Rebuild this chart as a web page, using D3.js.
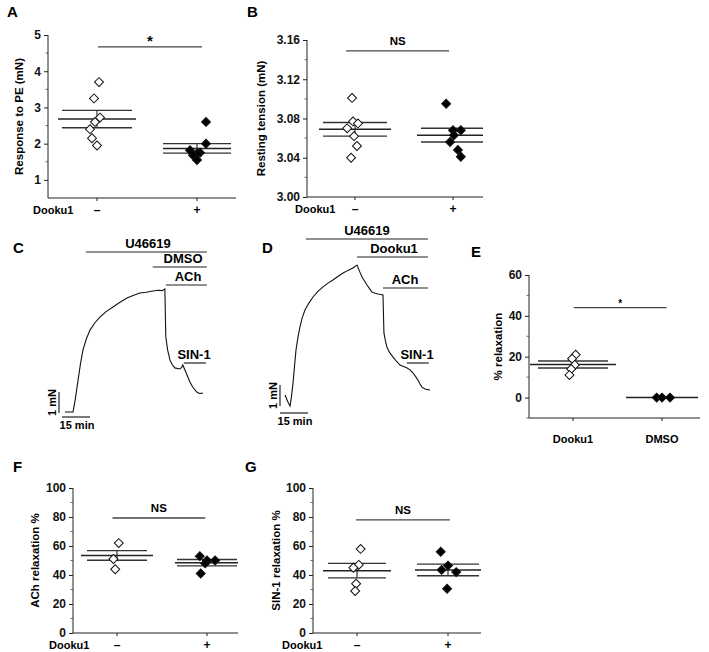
<!DOCTYPE html>
<html><head><meta charset="utf-8">
<script src="https://cdn.jsdelivr.net/npm/d3@7"></script>
<style>
body{margin:0;background:#fff;}
svg{font-family:"Liberation Sans",Arial,sans-serif;font-weight:bold;}
</style></head><body>
<svg id="fig" width="709" height="652"></svg>
<script>
// ---------- DATA ----------
// Panel A: response to PE (mN); jitter in category units
const aCats = ["–", "+"];
const aOpen = [3.70, 3.25, 2.72, 2.60, 2.40, 2.15, 1.95];
const aOpenJit = [0.02, -0.03, 0.03, -0.02, -0.07, -0.05, 0.0];
const aFilled = [2.60, 2.00, 1.82, 1.75, 1.72, 1.68, 1.55];
const aFilledJit = [0.09, 0.09, -0.07, 0.03, 0.0, -0.04, 0.0];
const aMean = [2.68, 1.87];
const aSem = [0.24, 0.13];
const aTicks = [1, 2, 3, 4, 5];

// Panel B: resting tension (mN)
const bCats = ["–", "+"];
const bOpen = [3.101, 3.077, 3.075, 3.070, 3.062, 3.052, 3.040];
const bOpenJit = [-0.03, -0.02, 0.03, -0.08, -0.01, 0.02, -0.04];
const bFilled = [3.095, 3.068, 3.068, 3.063, 3.056, 3.048, 3.041];
const bFilledJit = [-0.07, 0.0, 0.08, 0.01, -0.03, 0.05, 0.08];
const bMean = [3.069, 3.063];
const bSem = [0.007, 0.007];
const bTicks = [3.00, 3.04, 3.08, 3.12, 3.16];

// Panel E: % relaxation
const eCats = ["Dooku1", "DMSO"];
const eOpen = [21, 19, 16, 14, 11];
const eOpenJit = [0.03, -0.01, 0.02, -0.02, -0.04];
const eFilled = [0, 0, 0];
const eFilledJit = [-0.06, 0.0, 0.09];
const eMean = [16.2, 0];
const eSem = [1.7, 0];
const eTicks = [0, 20, 40, 60];

// Panel F: ACh relaxation %
const fCats = ["–", "+"];
const fOpen = [62, 51, 44];
const fOpenJit = [0.02, -0.04, -0.02];
const fFilled = [53, 50, 50, 48, 41];
const fFilledJit = [-0.08, 0.0, 0.09, -0.02, -0.07];
const fMean = [53.5, 48.5];
const fSem = [3.3, 2.2];
const fTicks = [0, 20, 40, 60, 80, 100];

// Panel G: SIN-1 relaxation %
const gCats = ["–", "+"];
const gOpen = [58, 47, 45, 34, 29];
const gOpenJit = [0.04, 0.02, -0.04, -0.01, -0.02];
const gFilled = [56, 46.5, 43.5, 42, 30.5];
const gFilledJit = [-0.08, 0.0, -0.07, 0.09, -0.01];
const gMean = [43, 43.5];
const gSem = [5, 4];
const gTicks = [0, 20, 40, 60, 80, 100];

// Panel C trace: [minutes, mN]
const cTrace = [[0,0],[4.3,0],[5.5,0.6],[7,1.52],[8.3,2.3],[9.6,2.95],[11.5,3.5],[13.4,3.9],[16,4.25],[18.7,4.52],[22,4.78],[25.7,5.0],[29,5.2],[33.2,5.43],[36.5,5.55],[40.1,5.67],[43.5,5.7],[47.1,5.76],[50,5.8],[52,5.78],[53.5,5.86],[54,3.57],[55,2.95],[56.2,2.48],[57.5,2.25],[58.8,2.1],[61.5,2.05],[62.5,2.12],[63.1,2.24],[64.5,1.95],[65.8,1.67],[67,1.42],[68.4,1.19],[70.6,0.95],[72,0.88],[73.8,0.9]];
const cBars = [["U46619", 11.2, 76], ["DMSO", 47, 76], ["ACh", 54, 76], ["SIN-1", 63.7, 75.5]];

// Panel D trace: [minutes, mN]
const dTrace = [[0,0.52],[1.5,0.2],[2.7,0],[3.4,0.4],[4.3,1.1],[5.1,1.9],[5.9,2.67],[7,3.3],[8,3.76],[9.2,4.2],[10.7,4.57],[12.8,4.9],[15,5.19],[17.5,5.45],[20.4,5.67],[23,5.85],[25.7,6.0],[28.5,6.18],[31.1,6.33],[34,6.47],[36.4,6.57],[38.6,6.71],[40,6.4],[41.3,6.14],[42.6,5.95],[43.9,5.76],[45.2,5.6],[46.6,5.43],[48,5.38],[49.8,5.33],[52.5,5.29],[53,3.48],[53.8,3.1],[54.6,2.81],[56,2.55],[57.9,2.33],[59.8,2.12],[61.6,1.95],[63.5,1.88],[65.4,1.81],[67,1.72],[68.6,1.57],[70,1.4],[71.2,1.24],[72.3,1.05],[73.4,0.9],[75,0.81],[77.7,0.76]];
const dBars = [["U46619", 11.2, 76.6], ["Dooku1", 38.6, 76.6], ["ACh", 52.5, 76.6], ["SIN-1", 65.3, 77]];

// ---------- DRAWING ----------
const svg = d3.select("#fig");
const FONT = "Liberation Sans, Arial, sans-serif";

function panelLabel(txt, x, y) {
  svg.append("text").attr("x", x).attr("y", y).attr("font-size", 15).text(txt);
}

function scatterPanel(o) {
  const g = svg.append("g");
  const y = d3.scaleLinear().domain(o.yDomain).range([o.bottom, o.top]);
  const x = d3.scaleLinear().domain([0, 1]).range(o.catX);
  const axX = o.axisLeft;
  const yAxis = d3.axisLeft(y).tickValues(o.ticks).tickSize(4).tickPadding(3)
    .tickFormat(o.fmt || d3.format("d"));
  const ya = g.append("g").attr("transform", `translate(${axX},0)`).call(yAxis);
  ya.select(".domain").attr("d", `M-0,${y(o.yDomain[1])}V${o.bottom}`).attr("stroke", "#222");
  ya.selectAll("text").attr("font-size", o.tickFs || 12).attr("font-family", FONT).attr("font-weight", "bold").attr("fill", "#111");
  ya.selectAll(".tick line").attr("stroke", "#222");
  g.selectAll(".minor").data(o.minor).join("line")
    .attr("x1", axX).attr("x2", axX - 2.5).attr("y1", d => y(d)).attr("y2", d => y(d))
    .attr("stroke", "#444").attr("stroke-width", 0.8);
  g.append("line").attr("x1", axX).attr("x2", o.axisRight).attr("y1", o.bottom).attr("y2", o.bottom).attr("stroke", "#222");
  [0, 1].forEach(i => {
    g.append("line").attr("x1", x(i)).attr("x2", x(i)).attr("y1", o.bottom).attr("y2", o.bottom + 3).attr("stroke", "#222");
  });
  const catDy = o.catDy || 16;
  if (o.rowLabel) {
    g.append("text").attr("x", o.rowLabelX).attr("y", o.bottom + catDy).attr("font-size", 11).text(o.rowLabel);
  }
  o.cats.forEach((c, i) => {
    g.append("text").attr("x", x(i)).attr("y", o.bottom + catDy).attr("text-anchor", "middle")
      .attr("font-size", o.catFs || 12).text(c);
  });
  g.append("text").attr("transform", `translate(${o.titleX},${(o.top + o.bottom) / 2}) rotate(-90)`)
    .attr("text-anchor", "middle").attr("font-size", 11.5).text(o.title);
  [0, 1].forEach(i => {
    const cx = x(i);
    const mh = o.meanHalf[i], sh = o.semHalf[i];
    const m = o.mean[i], s = o.sem[i];
    g.append("line").attr("x1", cx).attr("x2", cx).attr("y1", y(m - s)).attr("y2", y(m + s)).attr("stroke", "#333").attr("stroke-width", 1.2);
    if (s > 0) {
      [m - s, m + s].forEach(v => {
        g.append("line").attr("x1", cx - sh).attr("x2", Math.min(cx + sh, o.clipRight)).attr("y1", y(v)).attr("y2", y(v))
          .attr("stroke", "#333").attr("stroke-width", 1.4);
      });
    }
    g.append("line").attr("x1", cx - mh).attr("x2", Math.min(cx + mh, o.clipRight)).attr("y1", y(m)).attr("y2", y(m))
      .attr("stroke", "#222").attr("stroke-width", 1.5);
  });
  const sym = d3.symbol().type(d3.symbolSquare).size(40);
  function pts(vals, jit, ci, fill) {
    g.selectAll(null).data(vals.map((v, k) => ({ v, j: jit[k] }))).join("path")
      .attr("d", sym)
      .attr("transform", d => `translate(${x(ci + d.j)},${y(d.v)}) rotate(45)`)
      .attr("fill", fill).attr("stroke", "#111").attr("stroke-width", 1);
  }
  pts(o.open, o.openJit, 0, "#fff");
  pts(o.filled, o.filledJit, 1, "#000");
  g.append("line").attr("x1", x(o.sigFrom)).attr("x2", x(o.sigTo)).attr("y1", y(o.sigY)).attr("y2", y(o.sigY))
    .attr("stroke", "#444").attr("stroke-width", 1.3);
  g.append("text").attr("x", (x(o.sigFrom) + x(o.sigTo)) / 2).attr("y", y(o.sigY) - o.sigDy)
    .attr("text-anchor", "middle").attr("font-size", o.sigFs).text(o.sigText);
}

// A
panelLabel("A", 7, 17);
scatterPanel({
  yDomain: [0.5, 5], top: 35, bottom: 198, catX: [97, 197], axisLeft: 48, axisRight: 236, clipRight: 236,
  ticks: aTicks, minor: [1.5, 2.5, 3.5, 4.5], cats: aCats, rowLabel: "Dooku1", rowLabelX: 33,
  title: "Response to PE (mN)", titleX: 23,
  open: aOpen, openJit: aOpenJit, filled: aFilled, filledJit: aFilledJit,
  mean: aMean, sem: aSem, meanHalf: [39, 34], semHalf: [35, 34],
  sigFrom: 0.01, sigTo: 1.05, sigY: 4.67, sigText: "*", sigDy: 1, sigFs: 15
});

// B
panelLabel("B", 247, 17);
scatterPanel({
  yDomain: [3.00, 3.16], top: 40, bottom: 197, catX: [355, 453], axisLeft: 307, axisRight: 483, clipRight: 483,
  ticks: bTicks, minor: [3.02, 3.06, 3.10, 3.14], cats: bCats, rowLabel: "Dooku1", rowLabelX: 295,
  title: "Resting tension (mN)", titleX: 265, fmt: d3.format(".2f"),
  open: bOpen, openJit: bOpenJit, filled: bFilled, filledJit: bFilledJit,
  mean: bMean, sem: bSem, meanHalf: [36, 36], semHalf: [32, 32],
  sigFrom: -0.09, sigTo: 0.96, sigY: 3.149, sigText: "NS", sigDy: 6, sigFs: 11.5
});

// E
panelLabel("E", 471, 257);
scatterPanel({
  yDomain: [-10, 60], top: 275, bottom: 418, catX: [573, 662], axisLeft: 529, axisRight: 700, clipRight: 700,
  ticks: eTicks, minor: [-10, 10, 30, 50], cats: eCats, catFs: 11, catDy: 25, rowLabel: null,
  title: "% relaxation", titleX: 502,
  open: eOpen, openJit: eOpenJit, filled: eFilled, filledJit: eFilledJit,
  mean: eMean, sem: eSem, meanHalf: [43, 36], semHalf: [35, 35],
  sigFrom: 0.01, sigTo: 1.05, sigY: 44, sigText: "*", sigDy: 1, sigFs: 10
});

// F
panelLabel("F", 13, 472);
scatterPanel({
  yDomain: [0, 100], top: 488, bottom: 633, catX: [117, 207], axisLeft: 73, axisRight: 238, clipRight: 238,
  ticks: fTicks, minor: [10, 30, 50, 70, 90], cats: fCats, rowLabel: "Dooku1", rowLabelX: 49,
  title: "ACh relaxation %", titleX: 39,
  open: fOpen, openJit: fOpenJit, filled: fFilled, filledJit: fFilledJit,
  mean: fMean, sem: fSem, meanHalf: [36, 32], semHalf: [30, 30],
  sigFrom: -0.05, sigTo: 0.98, sigY: 79.3, sigText: "NS", sigDy: 6, sigFs: 11.5
});

// G
panelLabel("G", 245, 472);
scatterPanel({
  yDomain: [0, 100], top: 488, bottom: 633, catX: [357, 448], axisLeft: 313, axisRight: 481, clipRight: 481,
  ticks: gTicks, minor: [10, 30, 50, 70, 90], cats: gCats, rowLabel: "Dooku1", rowLabelX: 282,
  title: "SIN-1 relaxation %", titleX: 280,
  open: gOpen, openJit: gOpenJit, filled: gFilled, filledJit: gFilledJit,
  mean: gMean, sem: gSem, meanHalf: [34, 33], semHalf: [29, 31],
  sigFrom: -0.01, sigTo: 1.02, sigY: 78, sigText: "NS", sigDy: 6, sigFs: 11.5
});

// ---------- Trace panels ----------
function tracePanel(o) {
  const g = svg.append("g");
  const x = d3.scaleLinear().domain([0, 15]).range([o.x0, o.x0 + 28]);
  const y = d3.scaleLinear().domain([0, 1]).range([o.y0, o.y0 - 21]);
  const line = d3.line().x(d => x(d[0])).y(d => y(d[1]));
  g.append("path").attr("d", line(o.trace)).attr("fill", "none").attr("stroke", "#111").attr("stroke-width", 1.1);
  o.bars.forEach((b, i) => {
    const ly = o.barY[i];
    g.append("line").attr("x1", x(b[1])).attr("x2", x(b[2])).attr("y1", ly).attr("y2", ly).attr("stroke", "#222").attr("stroke-width", 1.2);
    g.append("text").attr("x", o.barTextX[i]).attr("y", ly - 4).attr("text-anchor", "middle").attr("font-size", 13).text(b[0]);
  });
  g.append("line").attr("x1", o.vbX).attr("x2", o.vbX).attr("y1", y(o.vbFrom)).attr("y2", y(o.vbFrom + 1)).attr("stroke", "#222").attr("stroke-width", 1.2);
  g.append("text").attr("transform", `translate(${o.vbX - 3},${y(o.vbFrom + 0.5)}) rotate(-90)`).attr("text-anchor", "middle")
    .attr("font-size", 11).text("1 mN");
  g.append("line").attr("x1", x(o.hbFrom)).attr("x2", x(o.hbFrom + 15)).attr("y1", o.hbY).attr("y2", o.hbY).attr("stroke", "#222").attr("stroke-width", 1.2);
  g.append("text").attr("x", (x(o.hbFrom) + x(o.hbFrom + 15)) / 2 + 1).attr("y", o.hbY + 12).attr("text-anchor", "middle")
    .attr("font-size", 11).text("15 min");
}

panelLabel("C", 13, 253);
tracePanel({
  x0: 65, y0: 412, trace: cTrace, bars: cBars,
  barY: [252, 267, 285, 363], barTextX: [148, 183, 188, 194],
  vbX: 59, vbFrom: -0.05, hbFrom: -1.6, hbY: 417
});

panelLabel("D", 262, 253);
tracePanel({
  x0: 285, y0: 406, trace: dTrace, bars: dBars,
  barY: [239, 257, 288, 363], barTextX: [367, 394, 405, 417],
  vbX: 280, vbFrom: 0, hbFrom: -2.7, hbY: 413
});
</script>
</body></html>
